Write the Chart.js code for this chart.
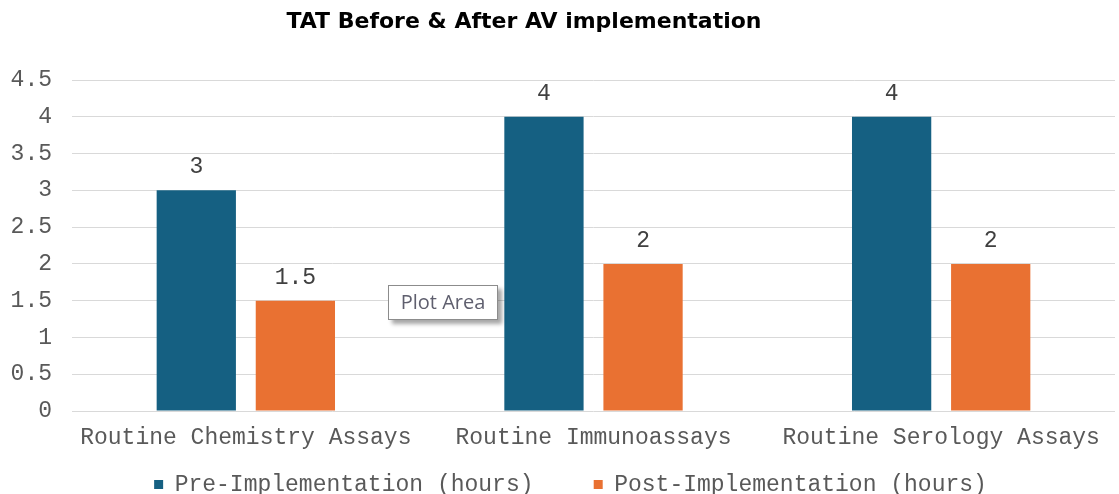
<!DOCTYPE html>
<html>
<head>
<meta charset="utf-8">
<script src="https://cdn.jsdelivr.net/npm/chart.js@4.4.1/dist/chart.umd.min.js"></script>
<style>
  html, body { margin: 0; padding: 0; background: #ffffff; }
  #wrap { position: relative; width: 1119px; height: 494px; }
</style>
</head>
<body>
<div id="wrap"><canvas id="chart" width="1119" height="494"></canvas></div>
<script>
// chart data
const title = 'TAT Before & After AV implementation';
const categories = ['Routine Chemistry Assays', 'Routine Immunoassays', 'Routine Serology Assays'];
const preValues = [3, 4, 4];
const postValues = [1.5, 2, 2];
const seriesNames = ['Pre-Implementation (hours)', 'Post-Implementation (hours)'];
const yMin = 0, yMax = 4.5, yStep = 0.5;

const monoFont = "'Courier New', 'Liberation Mono', monospace";
const textGray = '#595959';

// value labels above each bar
const barLabels = {
    id: 'barLabels',
    afterDatasetsDraw(chart) {
        const ctx = chart.ctx;
        ctx.save();
        ctx.font = '23px ' + monoFont;
        ctx.fillStyle = '#404040';
        ctx.textAlign = 'center';
        ctx.textBaseline = 'middle';
        chart.data.datasets.forEach((ds, i) => {
            chart.getDatasetMeta(i).data.forEach((bar, j) => {
                ctx.fillText(String(ds.data[j]), bar.x, bar.y - 23);
            });
        });
        ctx.restore();
    }
};

// legend sits a bit right of the canvas centre in the original
const legendShift = {
    id: 'legendShift',
    afterLayout(chart) {
        if (chart.legend) {
            chart.legend.left += 13;
            chart.legend.right += 13;
        }
    }
};

// title + the "Plot Area" hover box left over in the screenshot
const extras = {
    id: 'extras',
    afterDraw(chart) {
        const ctx = chart.ctx;
        ctx.save();
        ctx.font = "bold 22px 'DejaVu Sans', sans-serif";
        ctx.fillStyle = '#000000';
        ctx.textAlign = 'center';
        ctx.textBaseline = 'middle';
        ctx.fillText(title, 524, 22);

        // tooltip-like box
        const bx = 388, by = 285, bw = 110, bh = 35;
        ctx.shadowColor = 'rgba(0,0,0,0.35)';
        ctx.shadowBlur = 4;
        ctx.shadowOffsetX = 4;
        ctx.shadowOffsetY = 4;
        ctx.fillStyle = '#ffffff';
        ctx.fillRect(bx, by, bw, bh);
        ctx.shadowColor = 'transparent';
        ctx.strokeStyle = '#8c8c8c';
        ctx.lineWidth = 1;
        ctx.strokeRect(bx + 0.5, by + 0.5, bw - 1, bh - 1);
        ctx.font = "20px 'Open Sans', sans-serif";
        ctx.fillStyle = '#5f5f6e';
        ctx.textAlign = 'center';
        ctx.fillText('Plot Area', bx + bw / 2, by + bh / 2 + 1);
        ctx.restore();
    }
};

new Chart(document.getElementById('chart'), {
    type: 'bar',
    data: {
        labels: categories,
        datasets: [
            {
                label: seriesNames[0],
                data: preValues,
                backgroundColor: '#156082',
                categoryPercentage: 0.57,
                barPercentage: 0.8
            },
            {
                label: seriesNames[1],
                data: postValues,
                backgroundColor: '#E97132',
                categoryPercentage: 0.57,
                barPercentage: 0.8
            }
        ]
    },
    options: {
        responsive: false,
        animation: false,
        devicePixelRatio: 1,
        layout: { padding: { top: 80, right: 4, left: 0, bottom: -12 } },
        plugins: {
            title: { display: false },
            tooltip: { enabled: false },
            legend: {
                position: 'bottom',
                labels: {
                    boxWidth: 9,
                    boxHeight: 9,
                    padding: 5,
                    color: textGray,
                    font: { family: monoFont, size: 23 },
                    generateLabels(chart) {
                        const items = Chart.defaults.plugins.legend.labels.generateLabels(chart);
                        items[0].text = items[0].text + '    ';
                        return items;
                    }
                }
            }
        },
        scales: {
            x: {
                grid: { display: false },
                border: { display: false },
                ticks: {
                    color: textGray,
                    padding: 5,
                    font: { family: monoFont, size: 23 }
                },
                afterFit(scale) { scale.height = 57; }
            },
            y: {
                min: yMin,
                max: yMax,
                border: { display: false },
                grid: { color: '#d9d9d9', drawTicks: false },
                ticks: {
                    stepSize: yStep,
                    color: textGray,
                    padding: 20,
                    font: { family: monoFont, size: 23 },
                    callback: (v) => String(v)
                },
                afterFit(scale) { scale.width = 72; }
            }
        }
    },
    plugins: [barLabels, legendShift, extras]
});
</script>
</body>
</html>
